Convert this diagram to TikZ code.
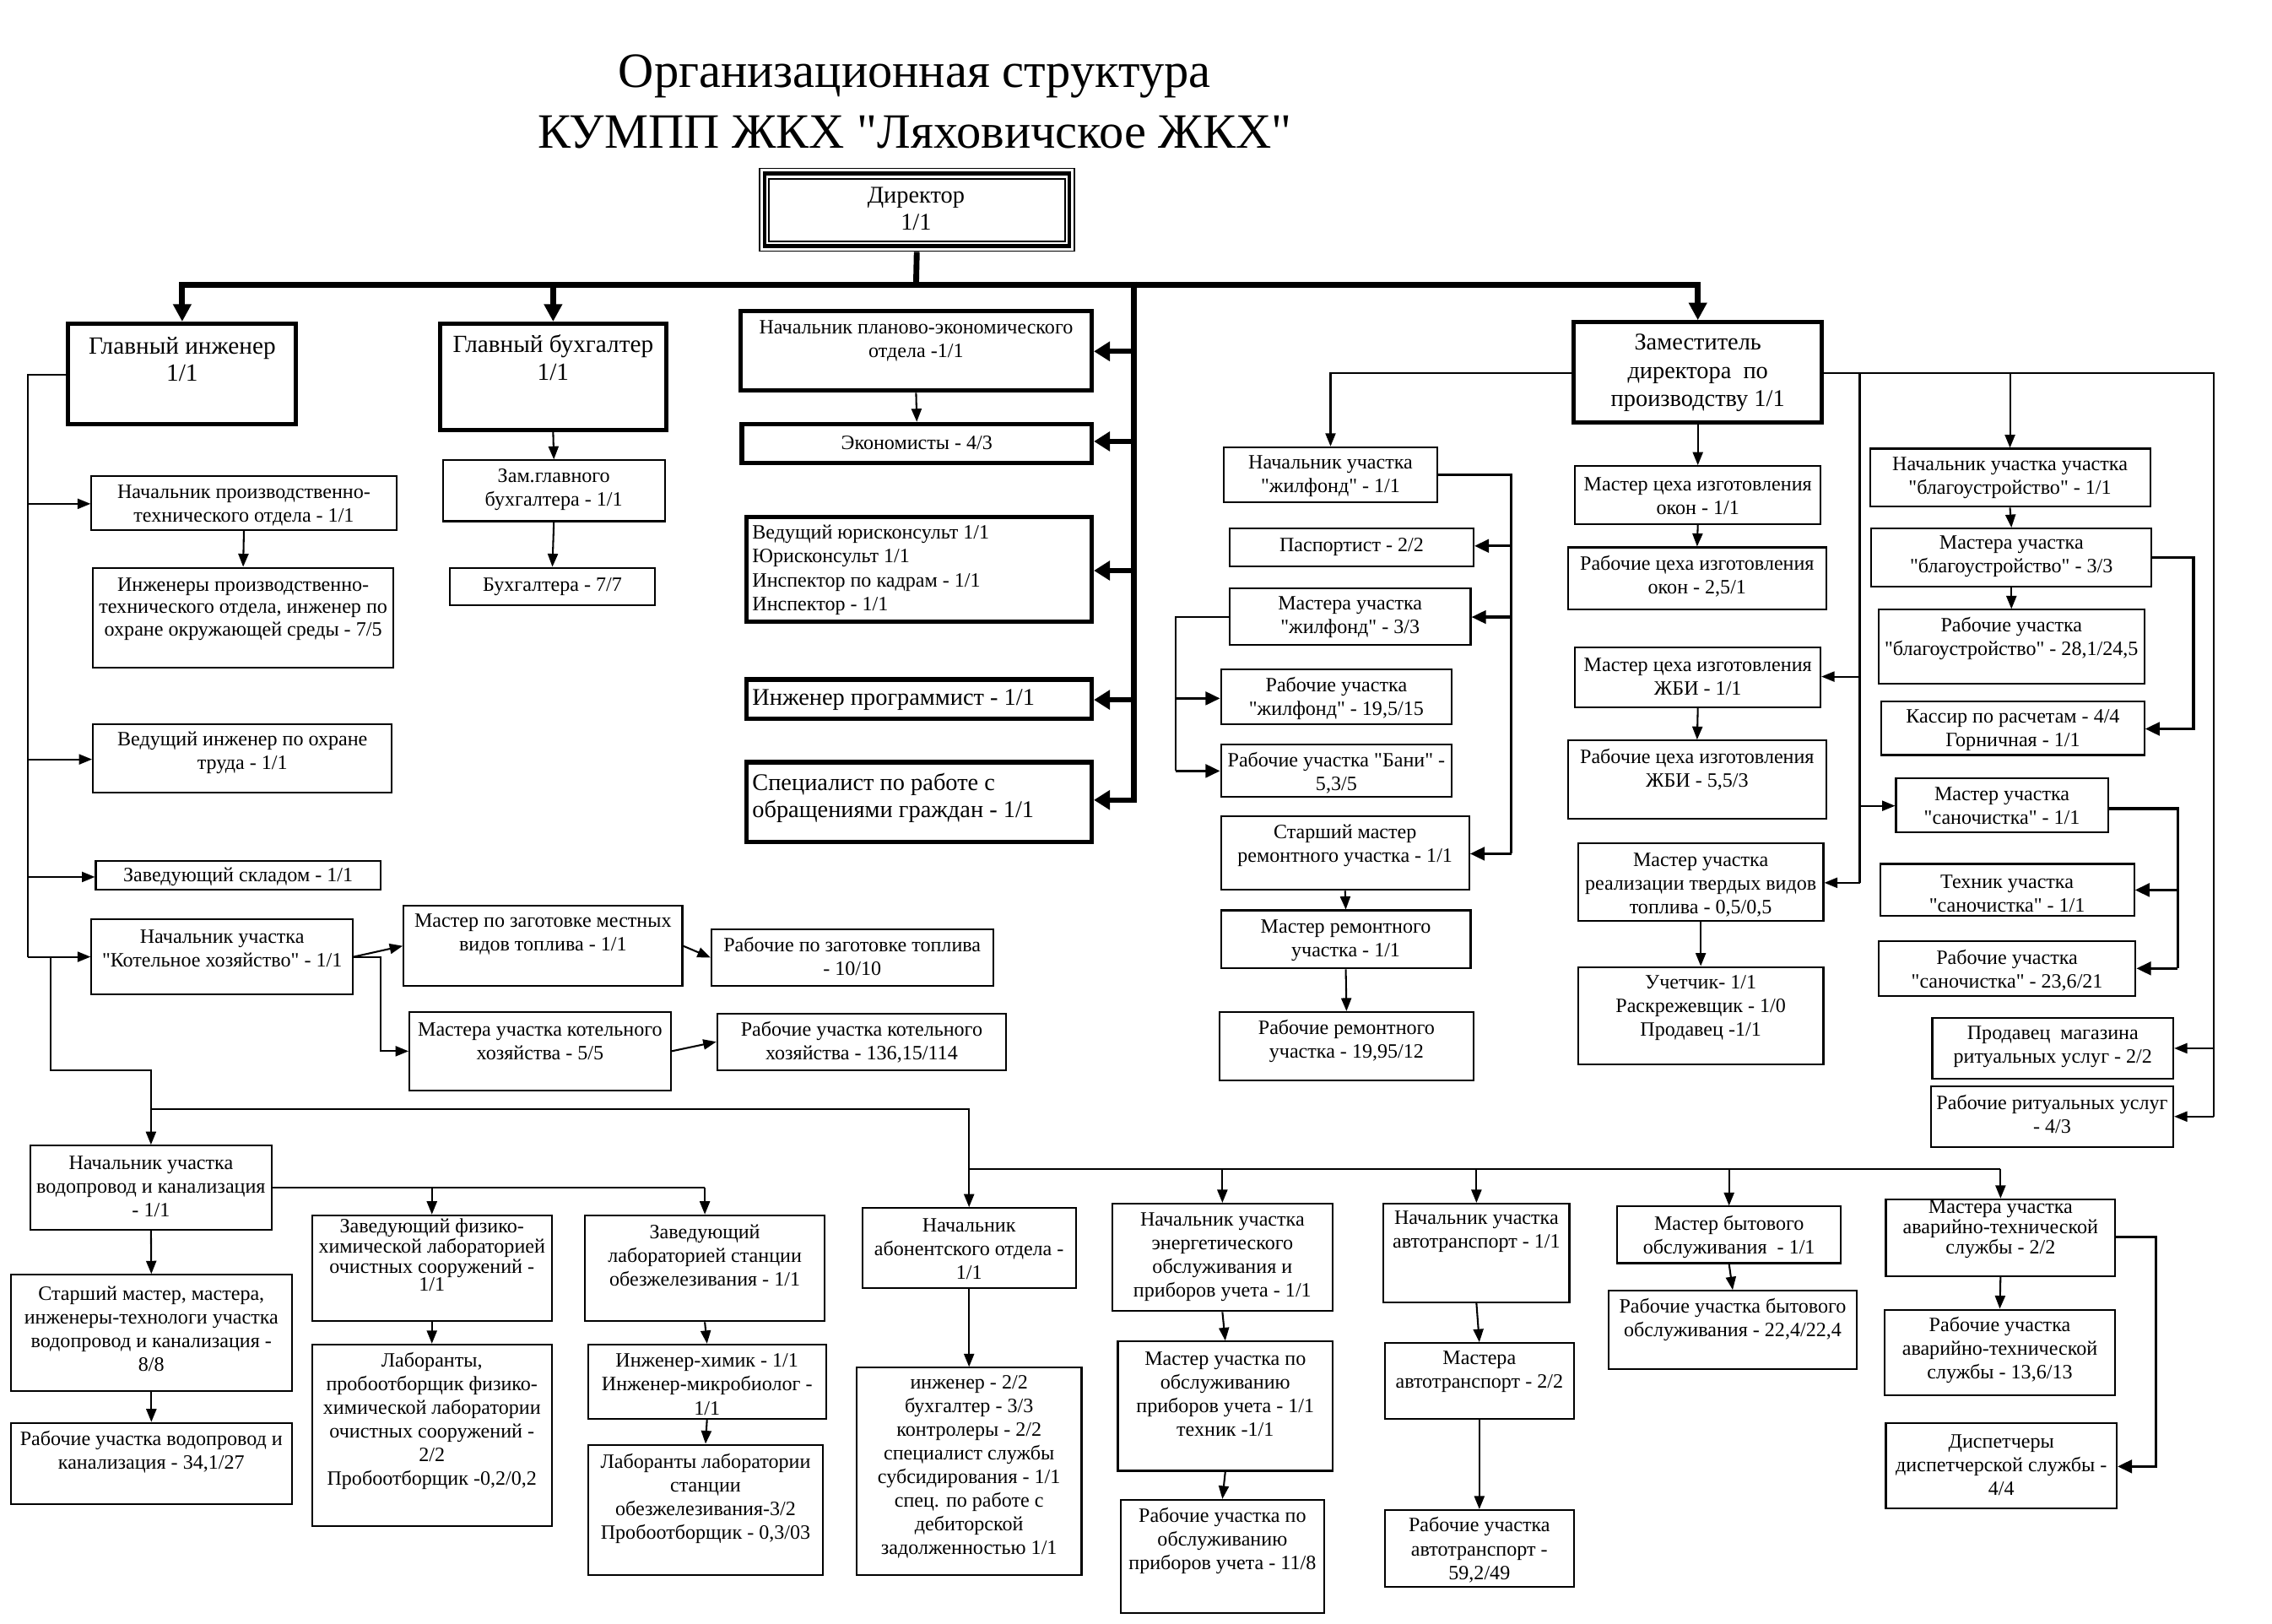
\documentclass[tikz,border=0pt]{standalone}
\usepackage{fontspec}
\setmainfont{Liberation Serif}
\newfontfamily\rus{Liberation Serif}
\usetikzlibrary{arrows.meta,fit}
\tikzset{
  thinbox/.style={draw, line width=1.2pt, inner sep=0pt},
  thickbox/.style={draw, line width=3pt, inner sep=0pt},
  ln/.style={line width=1.2pt},
  mln/.style={line width=2pt},
  tk/.style={line width=4pt},
  arr/.style={ln, -{Triangle[length=9pt,width=7pt]}},
  marr/.style={mln, -{Triangle[length=10pt,width=9pt]}},
  tarr/.style={line width=4pt, -{Triangle[length=12pt,width=12pt]}},
  larr/.style={line width=3.5pt, -{Triangle[length=11pt,width=13pt]}},
  txt/.style={align=center, inner sep=0pt, font=\rus\fontsize{14}{16.3}\selectfont},
  big/.style={font=\rus\fontsize{17}{19}\selectfont},
  mid/.style={font=\rus\fontsize{16.5}{18.5}\selectfont},
}
\newcommand\bx[6][thinbox]{\node[#1,fit={(#3,#4)(#5,#6)}] (#2) {};}
\newcommand\tx[4][]{\node[txt,#1] (#2) at (#3) {#4};}
\begin{document}
\begin{tikzpicture}[x=1pt,y=-1pt]
\fill[white] (0,0) rectangle (1565,1118);
\useasboundingbox (0,0) rectangle (1565,1118);

% title
\node[anchor=base, inner sep=0pt, font=\rus\fontsize{34}{40}\selectfont] (title1) at (630,60) {Организационная структура};
\node[anchor=base, inner sep=0pt, font=\rus\fontsize{34}{40}\selectfont] (title2) at (630,102) {КУМПП ЖКХ "Ляховичское ЖКХ"};

% director
\node[draw, line width=1pt, inner sep=0pt, fit={(523,116)(740,173)}] (dir) {};
\node[draw, line width=2.5pt, inner sep=0pt, fit={(526.5,119.5)(736.5,169.5)}] (dirm) {};
\node[draw, line width=1.2pt, inner sep=0pt, fit={(529.5,123)(733.5,166.5)}] (diri) {};
\tx[mid]{dirt}{631,144}{Директор\\1/1}

% top level
\bx[thickbox]{gi}{47}{223}{204}{292}
\tx[big]{git}{125.5,247.5}{Главный инженер\\1/1}
\bx[thickbox]{gb}{303}{223}{459}{296}
\tx[big]{gbt}{381,246.5}{Главный бухгалтер\\1/1}
\bx[thickbox]{peo}{510}{214}{752}{269}
\tx{peot}{631,235}{Начальник планово-экономического\\отдела -1/1}
\bx[thickbox]{econ}{511}{292}{752}{319}
\tx{econt}{631.5,305}{Экономисты - 4/3}
\bx[thickbox]{jur}{514}{356}{752}{428}
\node[txt, align=left, anchor=west, font=\rus\fontsize{14}{16.5}\selectfont] (jurt) at (518,392.5) {Ведущий юрисконсульт 1/1\\Юрисконсульт 1/1\\Инспектор по кадрам - 1/1\\Инспектор - 1/1};
\bx[thickbox]{prog}{514}{468}{752}{495}
\node[txt, mid, align=left, anchor=west] (progt) at (518,482) {Инженер программист - 1/1};
\bx[thickbox]{spec}{514}{525}{752}{580}
\node[txt, mid, align=left, anchor=west] (spect) at (518,549.5) {Специалист по работе с\\обращениями граждан - 1/1};
\bx[thickbox]{zam}{1084}{222}{1255}{291}
\tx[font=\rus\fontsize{16.5}{19.5}\selectfont]{zamt}{1169.5,257}{Заместитель\\директора~~по\\производству 1/1}

% accountant branch
\bx{zgb}{305}{317}{458}{359}
\tx{zgbt}{381.5,337.5}{Зам.главного\\бухгалтера - 1/1}
\bx{buh}{310}{391}{451}{417}
\tx{buht}{380.5,404}{Бухгалтера - 7/7}

% chief engineer branch
\bx{npto}{63}{328}{273}{365}
\tx{nptot}{168,348}{Начальник производственно-\\технического отдела - 1/1}
\bx{ipto}{64}{391}{271}{460}
\tx[font=\rus\fontsize{14}{15.5}\selectfont]{iptot}{167.5,419.5}{Инженеры производственно-\\технического отдела, инженер по\\охране окружающей среды - 7/5}
\bx{vio}{64}{499}{270}{546}
\tx{viot}{167,518.5}{Ведущий инженер по охране\\труда - 1/1}
\bx{sklad}{66}{593}{262}{613}
\tx{skladt}{164,604}{Заведующий складом - 1/1}
\bx{kot}{63}{633}{243}{685}
\tx{kott}{153,653}{Начальник участка\\"Котельное хозяйство" - 1/1}
\bx{mzag}{278}{624}{470}{679}
\tx{mzagt}{374,643.5}{Мастер по заготовке местных\\видов топлива - 1/1}
\bx{rzag}{490}{640}{684}{679}
\tx{rzagt}{587,658.5}{Рабочие по заготовке топлива\\- 10/10}
\bx{mkot}{282}{697}{462}{751}
\tx{mkott}{372,717}{Мастера участка котельного\\хозяйства - 5/5}
\bx{rkot}{494}{698}{693}{737}
\tx{rkott}{593.5,718}{Рабочие участка котельного\\хозяйства - 136,15/114}

% deputy branch: zhilfond
\bx{njil}{843}{308}{990}{346}
\tx{njilt}{916.5,328}{Начальник участка\\"жилфонд" - 1/1}
\bx{pasp}{847}{364}{1015}{390}
\tx{paspt}{931,377}{Паспортист - 2/2}
\bx{mjil}{847}{405}{1013}{444}
\tx{mjilt}{930,425}{Мастера участка\\"жилфонд" - 3/3}
\bx{rjil}{841}{461}{1000}{499}
\tx{rjilt}{920.5,481}{Рабочие участка\\"жилфонд" - 19,5/15}
\bx{bani}{841}{513}{1000}{549}
\tx{banit}{920.5,532.5}{Рабочие участка "Бани" -\\5,3/5}
\bx{stm}{841}{562}{1012}{613}
\tx{stmt}{926.5,582.5}{Старший мастер\\ремонтного участка - 1/1}
\bx{mrem}{841}{627}{1013}{667}
\tx{mremt}{927,647.5}{Мастер ремонтного\\участка - 1/1}
\bx{rrem}{840}{697}{1015}{744}
\tx{rremt}{927.5,717}{Рабочие ремонтного\\участка - 19,95/12}

% deputy branch: centre column
\bx{mokon}{1085}{321}{1254}{361}
\tx{mokont}{1169.5,341.5}{Мастер цеха изготовления\\окон - 1/1}
\bx{rokon}{1080}{377}{1258}{420}
\tx{rokont}{1169,397}{Рабочие цеха изготовления\\окон - 2,5/1}
\bx{mzbi}{1085}{446}{1254}{487}
\tx{mzbit}{1169.5,466}{Мастер цеха изготовления\\ЖБИ - 1/1}
\bx{rzbi}{1080}{510}{1258}{564}
\tx{rzbit}{1169,530}{Рабочие цеха изготовления\\ЖБИ - 5,5/3}
\bx{mreal}{1087}{581}{1256}{634}
\tx{mrealt}{1171.5,609.5}{Мастер участка\\реализации твердых видов\\топлива - 0,5/0,5}
\bx{uchet}{1087}{666}{1256}{733}
\tx{uchett}{1171.5,694}{Учетчик- 1/1\\Раскрежевщик - 1/0\\Продавец -1/1}

% deputy branch: right column
\bx{nblag}{1288}{309}{1481}{349}
\tx{nblagt}{1384.5,329}{Начальник участка участка\\"благоустройство" - 1/1}
\bx{mblag}{1289}{364}{1482}{404}
\tx{mblagt}{1385.5,383.5}{Мастера участка\\"благоустройство" - 3/3}
\bx{rblag}{1294}{420}{1477}{471}
\tx{rblagt}{1385.5,440}{Рабочие участка\\"благоустройство" - 28,1/24,5}
\bx{kass}{1296}{483}{1477}{520}
\tx{kasst}{1386.5,503}{Кассир по расчетам - 4/4\\Горничная - 1/1}
\bx{msan}{1306}{536}{1452}{573}
\tx{msant}{1379,555}{Мастер участка\\"саночистка" - 1/1}
\bx{tsan}{1295}{595}{1470}{631}
\tx{tsant}{1382.5,615.5}{Техник участка\\"саночистка" - 1/1}
\bx{rsan}{1294}{648}{1471}{686}
\tx{rsant}{1382.5,668.5}{Рабочие участка\\"саночистка" - 23,6/21}
\bx{prod}{1331}{701}{1497}{743}
\tx{prodt}{1414,721}{Продавец~~магазина\\ритуальных услуг - 2/2}
\bx{rrit}{1330}{748}{1497}{790}
\tx{rritt}{1413.5,767.5}{Рабочие ритуальных услуг\\- 4/3}

% bottom row
\bx{vod}{21}{789}{187}{847}
\tx{vodt}{104,817}{Начальник участка\\водопровод и канализация\\- 1/1}
\bx{zfh}{215}{837}{380}{910}
\tx[font=\rus\fontsize{14}{12.5}\selectfont]{zfht}{297.5,864.5}{Заведующий физико-\\химической лабораторией\\очистных сооружений -\\1/1}
\bx{zlab}{403}{837}{568}{910}
\tx{zlabt}{485.5,864.5}{Заведующий\\лабораторией станции\\обезжелезивания - 1/1}
\bx{nab}{594}{832}{741}{887}
\tx{nabt}{667.5,860}{Начальник\\абонентского отдела -\\1/1}
\bx{stmv}{7.5}{878}{201}{958}
\tx{stmvt}{104.25,915.5}{Старший мастер, мастера,\\инженеры-технологи участка\\водопровод и канализация -\\8/8}
\bx{rvod}{7.5}{980}{201}{1036}
\tx{rvodt}{104.25,1000}{Рабочие участка водопровод и\\канализация - 34,1/27}
\bx{lab}{215}{926}{380}{1051}
\tx{labt}{297.5,978.5}{Лаборанты,\\пробоотборщик физико-\\химической лаборатории\\очистных сооружений -\\2/2\\Пробоотборщик -0,2/0,2}
\bx{ihim}{405}{926}{569}{977}
\tx{ihimt}{487,953.5}{Инженер-химик - 1/1\\Инженер-микробиолог -\\1/1}
\bx{lobez}{405}{995}{567}{1085}
\tx{lobezt}{486,1032}{Лаборанты лаборатории\\станции\\обезжелезивания-3/2\\Пробоотборщик - 0,3/03}
\bx{ab}{590}{942}{745}{1085}
\tx{abt}{667.5,1010.5}{инженер - 2/2\\бухгалтер - 3/3\\контролеры - 2/2\\специалист службы\\субсидирования - 1/1\\спец. по работе с\\дебиторской\\задолженностью 1/1}
\bx{energ}{766}{829}{918}{903}
\tx{energt}{842,865.5}{Начальник участка\\энергетического\\обслуживания и\\приборов учета - 1/1}
\bx{moben}{770}{924}{918}{1013}
\tx{mobent}{844,960}{Мастер участка по\\обслуживанию\\приборов учета - 1/1\\техник -1/1}
\bx{roben}{772}{1033}{912}{1111}
\tx{robent}{842,1061}{Рабочие участка по\\обслуживанию\\приборов учета - 11/8}
\bx{navt}{953}{829}{1081}{897}
\tx{navtx}{1017,848.5}{Начальник участка\\автотранспорт - 1/1}
\bx{mavt}{954}{925}{1084}{977}
\tx{mavtx}{1019,945}{Мастера\\автотранспорт - 2/2}
\bx{ravt}{954}{1040}{1084}{1093}
\tx{ravtx}{1019,1067.5}{Рабочие участка\\автотранспорт -\\59,2/49}
\bx{mbyt}{1114}{831}{1268}{870}
\tx{mbytx}{1191,852}{Мастер бытового\\обслуживания~~- 1/1}
\bx{rbyt}{1108}{889}{1279}{943}
\tx{rbytx}{1193.5,909}{Рабочие участка бытового\\обслуживания - 22,4/22,4}
\bx{mav}{1299}{826}{1457}{879}
\tx[font=\rus\fontsize{14}{12.5}\selectfont]{mavx}{1378,846.5}{Мастера участка\\аварийно-технической\\службы - 2/2}
\bx{rav}{1298}{902}{1457}{961}
\tx{ravx}{1377.5,930}{Рабочие участка\\аварийно-технической\\службы - 13,6/13}
\bx{disp}{1299}{980}{1458}{1039}
\tx{dispx}{1378.5,1009}{Диспетчеры\\диспетчерской службы -\\4/4}

% ---------- connectors ----------
\coordinate (bus) at (631,196);
\draw[tk] (dir.south) -- (bus);
\draw[tk, {Triangle[length=12pt,width=12pt]}-{Triangle[length=12pt,width=12pt]}]
  (gi.north) -- (gi.north |- bus) -- (zam.north |- bus) -- (zam.north);
\draw[tarr] (gb.north |- bus) -- (gb.north);
\coordinate (v0) at (781,194);
\coordinate (v1) at (781,242);
\coordinate (v2) at (781,304);
\coordinate (v3) at (781,393);
\coordinate (v4) at (781,482);
\coordinate (v5) at (781,551);
\coordinate (v6) at (781,553);
\draw[tk] (v0) -- (v6);
\draw[larr] (v1) -- (peo.east |- v1);
\draw[larr] (v2) -- (econ.east |- v2);
\draw[larr] (v3) -- (jur.east |- v3);
\draw[larr] (v4) -- (prog.east |- v4);
\draw[larr] (v5) -- (spec.east |- v5);

\draw[arr] (gb.south) -- (zgb.north);
\draw[arr] (zgb.south) -- (buh.north);
\draw[arr] (peo.south) -- (econ.north);

% chief engineer
\coordinate (gl1) at (19,258);
\coordinate (gl2) at (19,659);
\coordinate (ga1) at (19,347);
\coordinate (ga2) at (19,523);
\coordinate (ga3) at (19,604);
\draw[ln] (gi.west |- gl1) -- (gl1) -- (gl2);
\draw[arr] (ga1) -- (npto.west |- ga1);
\draw[arr] (ga2) -- (vio.west |- ga2);
\draw[arr] (ga3) -- (sklad.west |- ga3);
\draw[arr] (gl2) -- (kot.west |- gl2);
\draw[arr] (npto.south) -- (ipto.north);
\coordinate (k1) at (262,659);
\coordinate (k2) at (262,724);
\draw[arr] (kot.east |- k1) -- (mzag.west);
\draw[arr] (kot.east |- k1) -- (k1) -- (k2) -- (mkot.west |- k2);
\draw[arr] (mzag.east) -- (rzag.west);
\draw[arr] (mkot.east) -- (rkot.west);

% lower distribution
\coordinate (s0) at (35,659);
\coordinate (s1) at (35,737);
\coordinate (s2) at (104,737);
\coordinate (s3) at (104,764);
\coordinate (s4) at (667.5,764);
\coordinate (s5) at (667.5,805);
\coordinate (s6) at (1378,805);
\draw[ln] (s0) -- (s1) -- (s2) -- (s3) -- (s4) -- (s5) -- (s6);
\draw[arr] (s3) -- (vod.north);
\draw[arr] (s5) -- (nab.north);
\draw[arr] (energ.north |- s5) -- (energ.north);
\draw[arr] (navt.north |- s5) -- (navt.north);
\draw[arr] (mbyt.north |- s5) -- (mbyt.north);
\draw[arr] (s6) -- (mav.north);

\coordinate (w1) at (485.5,818);
\draw[ln] (vod.east |- w1) -- (w1);
\draw[arr] (zfh.north |- w1) -- (zfh.north);
\draw[arr] (w1) -- (zlab.north);
\draw[arr] (vod.south) -- (stmv.north);
\draw[arr] (stmv.south) -- (rvod.north);
\draw[arr] (zfh.south) -- (lab.north);
\draw[arr] (zlab.south) -- (ihim.north);
\draw[arr] (ihim.south) -- (lobez.north);
\draw[arr] (nab.south) -- (ab.north);
\draw[arr] (energ.south) -- (moben.north);
\draw[arr] (moben.south) -- (roben.north);
\draw[arr] (navt.south) -- (mavt.north);
\draw[arr] (mavt.south) -- (ravt.north);
\draw[arr] (mbyt.south) -- (rbyt.north);
\draw[arr] (mav.south) -- (rav.north);
\coordinate (d1) at (1485,852);
\coordinate (d2) at (1485,1010);
\draw[marr] (mav.east |- d1) -- (d1) -- (d2) -- (disp.east |- d2);

% deputy
\coordinate (zl) at (916.5,257);
\draw[arr] (zam.west |- zl) -- (zl) -- (njil.north);
\coordinate (zr) at (1525,257);
\coordinate (zr1) at (1525,722);
\coordinate (zr2) at (1525,769);
\draw[ln] (zam.east |- zr) -- (zr) -- (zr2);
\draw[arr] (zr1) -- (prod.east |- zr1);
\draw[arr] (zr2) -- (rrit.east |- zr2);
\coordinate (r0) at (1281,257);
\coordinate (r1) at (1281,466);
\coordinate (r2) at (1281,555);
\coordinate (r3) at (1281,608);
\draw[ln] (r0) -- (r3);
\draw[arr] (r1) -- (mzbi.east |- r1);
\draw[arr] (r2) -- (msan.west |- r2);
\draw[arr] (r3) -- (mreal.east |- r3);
\draw[arr] (nblag.north |- zr) -- (nblag.north);
\draw[arr] (zam.south) -- (mokon.north);
\draw[arr] (mokon.south) -- (rokon.north);
\draw[arr] (mzbi.south) -- (rzbi.north);
\draw[arr] (mreal.south) -- (uchet.north);
\draw[arr] (nblag.south) -- (mblag.north);
\draw[arr] (mblag.south) -- (rblag.north);
\coordinate (kb1) at (1511,384);
\coordinate (kb2) at (1511,502);
\draw[marr] (mblag.east |- kb1) -- (kb1) -- (kb2) -- (kass.east |- kb2);
\coordinate (ms1) at (1500,557);
\coordinate (ms2) at (1500,613);
\coordinate (ms3) at (1500,667);
\draw[mln] (msan.east |- ms1) -- (ms1) -- (ms3);
\draw[marr] (ms2) -- (tsan.east |- ms2);
\draw[marr] (ms3) -- (rsan.east |- ms3);
\coordinate (nj1) at (1041,327);
\coordinate (nj2) at (1041,376);
\coordinate (nj3) at (1041,425);
\coordinate (nj4) at (1041,588);
\draw[mln] (njil.east |- nj1) -- (nj1) -- (nj4);
\draw[marr] (nj2) -- (pasp.east |- nj2);
\draw[marr] (nj3) -- (mjil.east |- nj3);
\draw[marr] (nj4) -- (stm.east |- nj4);
\coordinate (mj1) at (810,425);
\coordinate (mj2) at (810,481);
\coordinate (mj3) at (810,531);
\draw[ln] (mjil.west |- mj1) -- (mj1) -- (mj3);
\draw[marr] (mj2) -- (rjil.west |- mj2);
\draw[marr] (mj3) -- (bani.west |- mj3);
\draw[arr] (stm.south) -- (mrem.north);
\draw[arr] (mrem.south) -- (rrem.north);
\end{tikzpicture}
\end{document}
